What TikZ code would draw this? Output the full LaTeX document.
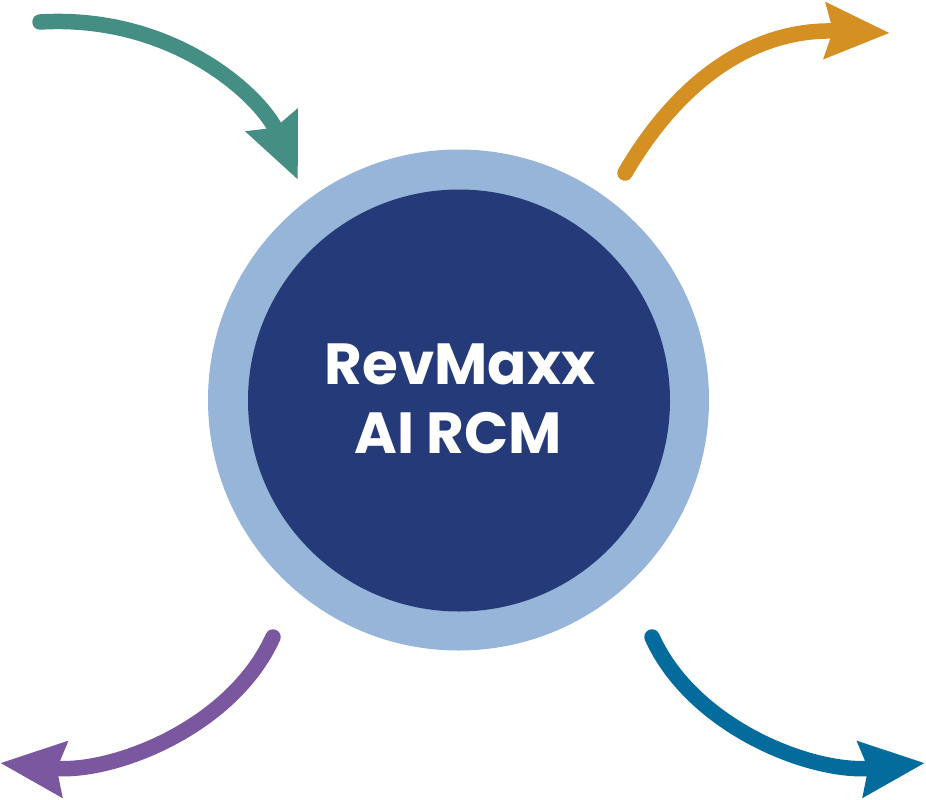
\documentclass[tikz,border=0pt]{standalone}
\usepackage{fontspec}
\setmainfont{Poppins}[BoldFont={* Bold}]
\usetikzlibrary{arrows.meta}
\definecolor{cteal}{HTML}{458E84}
\definecolor{corange}{HTML}{D49023}
\definecolor{cpurple}{HTML}{7B57A0}
\definecolor{cblue}{HTML}{046C9C}
\definecolor{cring}{HTML}{96B5D8}
\definecolor{ccore}{HTML}{253A78}
\tikzset{
  flow/.style={line width=15.5pt, line cap=round, -{Stealth[length=64pt, width=54pt, inset=7pt]}},
  ring/.style={circle, fill=cring, minimum size=501pt, inner sep=0pt},
  core/.style={circle, fill=ccore, minimum size=422pt, inner sep=0pt},
  title/.style={font=\fontsize{58}{69}\selectfont\bfseries, text=white, inner sep=0pt, anchor=base}
}
\begin{document}
\begin{tikzpicture}[x=1pt, y=-1pt]
\useasboundingbox (0,0) rectangle (926,800);
\node[ring] (outer) at (458.5,400) {};
\node[core] (inner) at (459,400.5) {};
\node[title] (line1) at (460,384) {RevMaxx};
\node[title] (line2) at (458,453) {AI RCM};
% arrow end points
\coordinate (tealS) at (40,22);
\coordinate (tealE) at (298,180);
\coordinate (orangeS) at (625,173);
\coordinate (orangeE) at (890,33);
\coordinate (purpleS) at (273,637);
\coordinate (purpleE) at (0,763);
\coordinate (blueS) at (652,637);
\coordinate (blueE) at (925,763);
\draw[flow, draw=cteal] (tealS) .. controls (175,14) and (262,98) .. (tealE);
\draw[flow, draw=corange] (orangeS) .. controls (678,82) and (752,28) .. (orangeE);
\draw[flow, draw=cpurple] (purpleS) .. controls (232,728) and (112,774) .. (purpleE);
\draw[flow, draw=cblue] (blueS) .. controls (693,728) and (813,774) .. (blueE);
\end{tikzpicture}
\end{document}
